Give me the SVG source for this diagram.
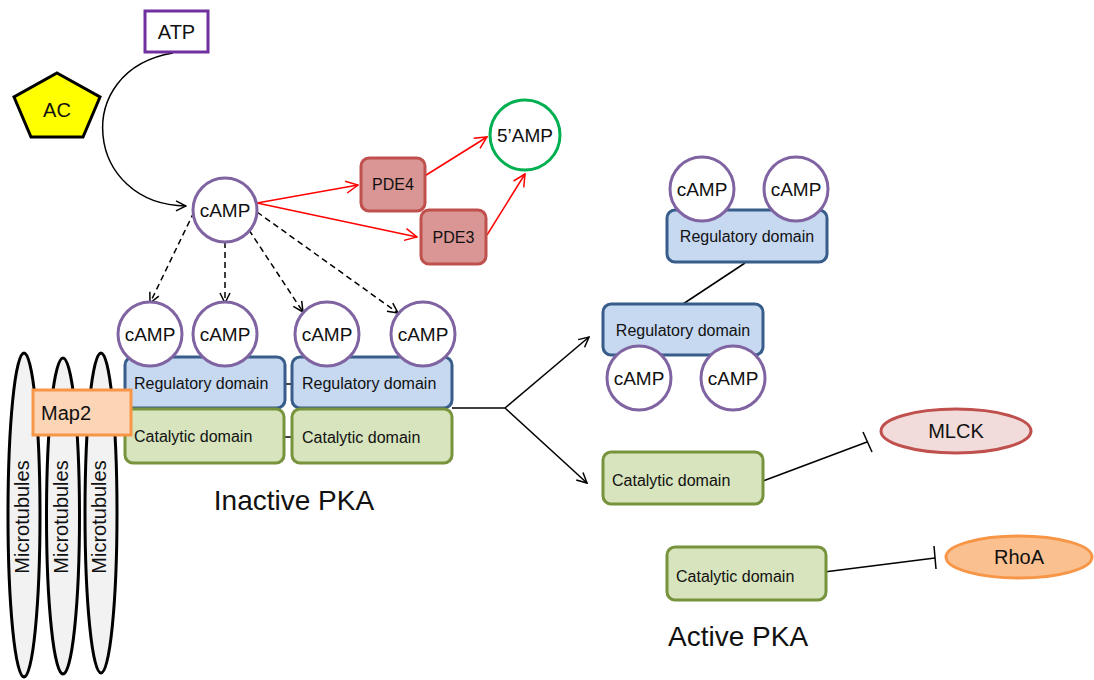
<svg xmlns="http://www.w3.org/2000/svg" width="1094" height="680" viewBox="0 0 1094 680">
<defs>
<style>
text{font-family:"Liberation Sans",Arial,sans-serif;fill:#111;}
.camp{fill:#fff;stroke:#8064a2;stroke-width:3;}
.ct{font-size:19px;text-anchor:middle;}
.reg{fill:#c6d9f1;stroke:#385d8a;stroke-width:3;}
.cat{fill:#d7e4bd;stroke:#77933c;stroke-width:3;}
.dt{font-size:16px;}
.pde{fill:#d99694;stroke:#c0504d;stroke-width:3;}
.mt{fill:#f2f2f2;stroke:#000;stroke-width:3;}
.mtt{font-size:20px;text-anchor:middle;}
.big{font-size:28px;}
.blk{fill:none;stroke:#000;stroke-width:1.5;}
.red{fill:none;stroke:#ff0000;stroke-width:1.5;}
.dash{fill:none;stroke:#000;stroke-width:1.5;stroke-dasharray:6 4;}
</style>
<marker id="ab" viewBox="0 0 12 12" refX="11" refY="6" markerWidth="12" markerHeight="12" markerUnits="userSpaceOnUse" orient="auto">
<path d="M1,1 L11,6 L1,11" fill="none" stroke="#000" stroke-width="1.5"/>
</marker>
<marker id="ar" viewBox="0 0 14 14" refX="13" refY="7" markerWidth="14" markerHeight="14" markerUnits="userSpaceOnUse" orient="auto">
<path d="M1,1 L13,7 L1,13" fill="none" stroke="#ff0000" stroke-width="1.5"/>
</marker>
</defs>
<rect width="1094" height="680" fill="#fff"/>

<g id="microtubules">
<ellipse class="mt" cx="24" cy="515" rx="16" ry="162"/>
<ellipse class="mt" cx="63" cy="516" rx="16.5" ry="158"/>
<ellipse class="mt" cx="101" cy="513" rx="16" ry="160"/>
<text class="mtt" transform="translate(29,517) rotate(-90)">Microtubules</text>
<text class="mtt" transform="translate(68,517) rotate(-90)">Microtubules</text>
<text class="mtt" transform="translate(106,517) rotate(-90)">Microtubules</text>
</g>

<g id="connectors">
<path class="blk" d="M173,53 C70,70 85,205 186,206" marker-end="url(#ab)"/>
<line class="dash" x1="194" y1="212" x2="150" y2="303" marker-end="url(#ab)"/>
<line class="dash" x1="225" y1="242" x2="225" y2="303" marker-end="url(#ab)"/>
<line class="dash" x1="249" y1="230" x2="303" y2="312" marker-end="url(#ab)"/>
<line class="dash" x1="257" y1="212" x2="398" y2="313" marker-end="url(#ab)"/>
<line class="red" x1="257" y1="203" x2="358" y2="185" marker-end="url(#ar)"/>
<line class="red" x1="257" y1="203" x2="417" y2="237" marker-end="url(#ar)"/>
<line class="red" x1="423" y1="177" x2="487" y2="137" marker-end="url(#ar)"/>
<line class="red" x1="487" y1="235" x2="525" y2="174" marker-end="url(#ar)"/>
<line class="blk" x1="277" y1="384" x2="302" y2="384"/>
<line class="blk" x1="277" y1="437" x2="302" y2="437"/>
<polyline class="blk" points="452,408 505,408"/>
<line class="blk" x1="505" y1="408" x2="589" y2="337" marker-end="url(#ab)"/>
<line class="blk" x1="505" y1="408" x2="587" y2="483" marker-end="url(#ab)"/>
<line class="blk" x1="745" y1="263" x2="683" y2="304"/>
<line class="blk" x1="763" y1="481" x2="867" y2="442"/>
<line class="blk" x1="863" y1="432" x2="872" y2="452"/>
<line class="blk" x1="824" y1="572" x2="935" y2="558"/>
<line class="blk" x1="934" y1="546" x2="936" y2="569"/>
</g>

<g id="atp">
<rect x="145" y="11" width="63" height="41" fill="#fff" stroke="#7030a0" stroke-width="3"/>
<text x="176.5" y="39" font-size="20" text-anchor="middle">ATP</text>
</g>

<g id="ac">
<polygon points="57,73 100,97 83,137 31,137 14,97" fill="#ffff00" stroke="#000" stroke-width="3" stroke-linejoin="miter"/>
<text x="57" y="117" font-size="20" text-anchor="middle">AC</text>
</g>

<g id="camp-main">
<circle class="camp" cx="225" cy="210" r="32"/>
<text class="ct" x="225" y="217">cAMP</text>
</g>

<g id="pde4">
<rect class="pde" x="361" y="158" width="64" height="53" rx="8"/>
<text x="393" y="190" font-size="16" text-anchor="middle">PDE4</text>
</g>
<g id="pde3">
<rect class="pde" x="421" y="210" width="65" height="54" rx="8"/>
<text x="453.5" y="243" font-size="16" text-anchor="middle">PDE3</text>
</g>
<g id="amp5">
<circle cx="525" cy="135" r="35" fill="#fff" stroke="#00b050" stroke-width="3"/>
<text x="525" y="142" font-size="19" text-anchor="middle">5’AMP</text>
</g>

<g id="inactive-pka">
<rect class="reg" x="125" y="357" width="160" height="51" rx="8"/>
<rect class="reg" x="292" y="357" width="160" height="51" rx="8"/>
<rect class="cat" x="125" y="409" width="159" height="54" rx="8"/>
<rect class="cat" x="292" y="409" width="160" height="54" rx="8"/>
<text class="dt" x="134" y="389">Regulatory domain</text>
<text class="dt" x="302" y="389">Regulatory domain</text>
<text class="dt" x="134" y="442">Catalytic domain</text>
<text class="dt" x="302" y="443">Catalytic domain</text>
<circle class="camp" cx="150" cy="334" r="32"/>
<text class="ct" x="150" y="341">cAMP</text>
<circle class="camp" cx="225" cy="334" r="32"/>
<text class="ct" x="225" y="341">cAMP</text>
<circle class="camp" cx="327" cy="334" r="32"/>
<text class="ct" x="327" y="341">cAMP</text>
<circle class="camp" cx="423" cy="334" r="32"/>
<text class="ct" x="423" y="341">cAMP</text>
<text class="big" x="294" y="510" text-anchor="middle">Inactive PKA</text>
</g>

<g id="map2">
<rect x="33" y="390" width="98" height="45" fill="#fbd5b5" stroke="#f79646" stroke-width="3"/>
<text x="41" y="420" font-size="20">Map2</text>
</g>

<g id="active-reg-top">
<rect class="reg" x="667" y="210" width="160" height="52" rx="8"/>
<text class="dt" x="747" y="242" text-anchor="middle">Regulatory domain</text>
<circle class="camp" cx="702" cy="189" r="32"/>
<text class="ct" x="702" y="196">cAMP</text>
<circle class="camp" cx="796" cy="189" r="32"/>
<text class="ct" x="796" y="196">cAMP</text>
</g>

<g id="active-reg-bottom">
<rect class="reg" x="603" y="304" width="160" height="51" rx="8"/>
<text class="dt" x="683" y="336" text-anchor="middle">Regulatory domain</text>
<circle class="camp" cx="639" cy="378" r="32"/>
<text class="ct" x="639" y="385">cAMP</text>
<circle class="camp" cx="733" cy="378" r="32"/>
<text class="ct" x="733" y="385">cAMP</text>
</g>

<g id="active-cat-1">
<rect class="cat" x="603" y="452" width="160" height="52" rx="8"/>
<text class="dt" x="612" y="486">Catalytic domain</text>
</g>
<g id="active-cat-2">
<rect class="cat" x="667" y="547" width="159" height="53" rx="8"/>
<text class="dt" x="676" y="582">Catalytic domain</text>
</g>

<g id="mlck">
<ellipse cx="956" cy="431" rx="75" ry="22" fill="#f2dcdb" stroke="#c0504d" stroke-width="3"/>
<text x="956" y="438" font-size="20" text-anchor="middle">MLCK</text>
</g>
<g id="rhoa">
<ellipse cx="1019" cy="557" rx="73" ry="21" fill="#fac090" stroke="#f79646" stroke-width="3"/>
<text x="1019" y="564" font-size="20" text-anchor="middle">RhoA</text>
</g>

<text id="active-label" class="big" x="668" y="646">Active PKA</text>
</svg>
